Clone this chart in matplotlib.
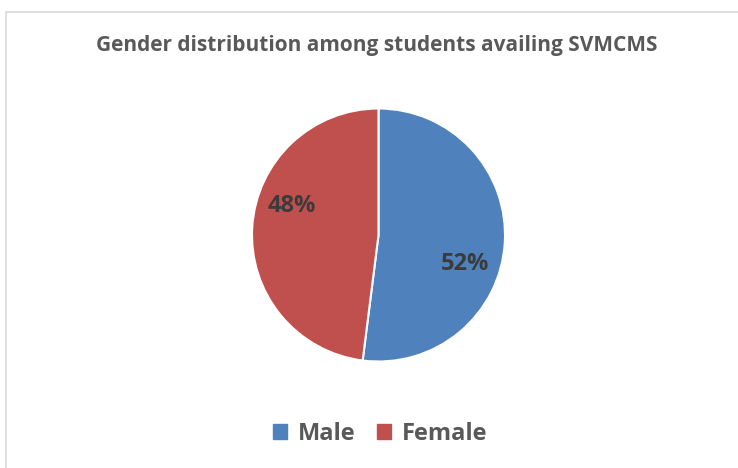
import numpy as np
import matplotlib

matplotlib.use("Agg")
import matplotlib.pyplot as plt
from matplotlib.lines import Line2D

plt.rcParams["font.family"] = ["Open Sans", "DejaVu Sans"]

title = "Gender distribution among students availing SVMCMS"
labels = ["Male", "Female"]
shares = [52, 48]
colors = ["#4f81bd", "#c0504d"]

W, H = 738, 468
fig = plt.figure(figsize=(W / 100, H / 100), dpi=100)
fig.patch.set_facecolor("white")

# light frame on top and left edges, as in the source screenshot
fig.add_artist(Line2D([6 / W, 1], [1 - 11.5 / H, 1 - 11.5 / H], color="#d9d9d9", lw=1.2))
fig.add_artist(Line2D([6 / W, 6 / W], [0, 1 - 11.5 / H], color="#d9d9d9", lw=1.2))

# pie centre ~ (378, 235), radius ~126 px
cx, cy, r = 378.5, 235.0, 126.5
ax = fig.add_axes([(cx - r) / W, 1 - (cy + r) / H, 2 * r / W, 2 * r / H])
wedges, _ = ax.pie(
    shares,
    colors=colors,
    startangle=90,
    counterclock=False,
    radius=1.0,
    wedgeprops=dict(edgecolor="white", linewidth=1.5),
)
ax.set_xlim(-1, 1)
ax.set_ylim(-1, 1)
ax.set_aspect("equal")
ax.axis("off")

# Excel "best fit" labels sit a bit off the wedge middle
for w, v in zip(wedges, shares):
    mid = np.deg2rad((w.theta1 + w.theta2) / 2 - 15)
    ax.text(0.72 * np.cos(mid), 0.72 * np.sin(mid), f"{v}%",
            ha="center", va="center", fontsize=17, fontweight="bold",
            color="#3b3b3b")

fig.text(377 / W, 1 - 45 / H, title, ha="center", va="center",
         fontsize=15, fontweight="bold", color="#595959")

handles = [plt.Rectangle((0, 0), 1, 1, color=c) for c in colors]
fig.legend(handles, labels, loc="center", bbox_to_anchor=(0.515, 1 - 434 / H),
           ncol=2, frameon=False,
           prop=dict(weight="bold", size=17), handlelength=0.6,
           handleheight=0.6, handletextpad=0.45, columnspacing=0.9,
           labelcolor="#595959")

fig.savefig("out.png", dpi=100, facecolor="white")
